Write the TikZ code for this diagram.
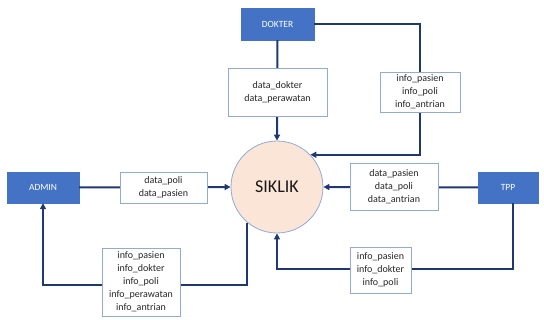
\documentclass[tikz,border=0pt]{standalone}
\usepackage{fontspec}
\setmainfont{Carlito}
\usetikzlibrary{arrows.meta}
\definecolor{entblue}{HTML}{4472C4}
\definecolor{flowblue}{HTML}{1F3871}
\definecolor{lblborder}{HTML}{8FAADC}
\definecolor{procfill}{HTML}{FBE5D6}
\tikzset{
  entity/.style={draw=entblue, fill=entblue, text=white, font=\fontsize{9.5}{11}\selectfont, minimum width=#1, minimum height=31pt, inner sep=0pt},
  lbl/.style={draw=lblborder, line width=0.8pt, fill=white, text=black!85, font=\fontsize{10}{13}\selectfont, align=center, inner sep=0pt},
  flow/.style={draw=flowblue, line width=2pt, -{Triangle[length=6pt,width=6pt]}},
  proc/.style={circle, draw=lblborder, line width=0.8pt, fill=procfill, minimum size=92pt, inner sep=0pt, font=\fontsize{18}{20}\selectfont, text=black!90}
}
\begin{document}
\begin{tikzpicture}[x=1pt,y=-1pt]
\useasboundingbox (0,0) rectangle (544,320);
% main nodes
\node[entity=73pt, minimum height=32pt] (dokter) at (277.5,24) {DOKTER};
\node[entity=72pt] (admin) at (43,187.5) {ADMIN};
\node[entity=60pt] (tpp) at (508,187.5) {TPP};
\node[proc] (siklik) at (277,187) {SIKLIK};
% connectors
\draw[flow] (dokter.south) -- (siklik.north);
\draw[flow] (dokter.east) -- ++(106,0) |- (siklik.44);
\draw[flow] (admin.east) -- (siklik.west);
\draw[flow] (tpp.west) -- (siklik.east);
\draw[flow] (siklik.230) -- ++(0,62) -| (admin.south);
\draw[flow] ([xshift=5pt]tpp.south) -- ++(0,66) -| (siklik.south);
% labels on flows
\node[lbl, minimum width=99pt, minimum height=48pt] (l1) at (277.5,92) {data\_dokter\\data\_perawatan};
\node[lbl, minimum width=80pt, minimum height=40pt] (l2) at (420,92) {info\_pasien\\info\_poli\\info\_antrian};
\node[lbl, minimum width=87pt, minimum height=31pt] (l3) at (163.5,187.5) {data\_poli\\data\_pasien};
\node[lbl, minimum width=78pt, minimum height=68pt] (l4) at (141,282) {info\_pasien\\info\_dokter\\info\_poli\\info\_perawatan\\info\_antrian};
\node[lbl, minimum width=88pt, minimum height=47pt] (l5) at (394,186.5) {data\_pasien\\data\_poli\\data\_antrian};
\node[lbl, minimum width=61pt, minimum height=46pt] (l6) at (380.5,270) {info\_pasien\\info\_dokter\\info\_poli};
\end{tikzpicture}
\end{document}
